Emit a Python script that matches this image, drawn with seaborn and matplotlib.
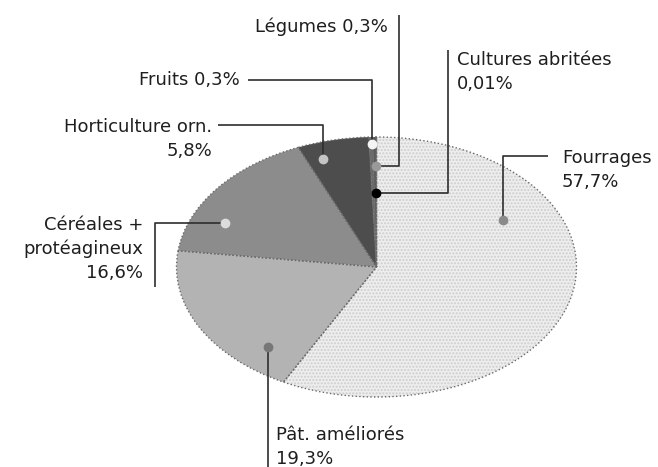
import numpy as np
import matplotlib
matplotlib.use("Agg")
import matplotlib.pyplot as plt
import seaborn as sns

# Surface shares (%) by land use
categories = ["Fourrages", "Pât. améliorés", "Céréales +\nprotéagineux",
              "Horticulture orn.", "Fruits", "Légumes", "Cultures abritées"]
shares = [57.7, 19.3, 16.6, 5.8, 0.3, 0.3, 0.01]
share_labels = ["57,7%", "19,3%", "16,6%", "5,8%", "0,3%", "0,3%", "0,01%"]

sns.set_theme(style="white")
plt.rcParams["font.family"] = ["DejaVu Sans"]

W, H = 658, 467
fig = plt.figure(figsize=(W / 100, H / 100), dpi=100)
ax = fig.add_axes([0, 0, 1, 1])

# pixel frame of the (elliptical) pie
CX, CY, RX, RY = 376.5, 267.0, 200.0, 130.0


def px(x, y):
    """pixel position -> data position of the pie axes"""
    return (x - CX) / RX, (CY - y) / RY


face = ["#eeeeee", "#b3b3b3", "#8c8c8c", "#4d4d4d", "#6a6a6a", "#5a5a5a", "#000000"]

# filled wedges; the large one gets a fine light stipple
wedges, _ = ax.pie(shares, startangle=90, counterclock=False, colors=face,
                   radius=1.0, wedgeprops=dict(edgecolor="none", linewidth=0))
wedges[0].set_hatch(".....")
wedges[0].set_edgecolor("#cdcdcd")
wedges[0].set_linewidth(0)

# dotted outlines on top
ax.pie(shares, startangle=90, counterclock=False, colors=["none"] * len(shares),
       radius=1.0, wedgeprops=dict(edgecolor="#6a6a6a", linewidth=1.0, linestyle=":",
                                   fill=False))

ax.set_aspect("auto")
x0, y1 = px(0, 0)
x1, y0 = px(W, H)
ax.set_xlim(x0, x1)
ax.set_ylim(y0, y1)
ax.axis("off")

# anchor inside each wedge: (fraction along the wedge clockwise, radius)
anchor_pos = [(0.29, 0.73), (0.20, 0.82), (0.28, 0.83), (0.24, 0.87),
              (0.70, 0.95), (0.98, 0.78), (0.5, 0.57)]
marker_col = ["#8a8a8a", "#777777", "#dcdcdc", "#c4c4c4", "#f4f4f4", "#9a9a9a", "#000000"]

# leader routing: first leg direction, end point (px); text position (px), alignment
leaders = [
    ("v", (548, 156), (562, 170), "left", "{0}\n{1}"),
    ("v", (268, 467), (276, 447), "left", "{0}\n{1}"),
    ("h", (155, 287), (143, 249), "right", "{0}\n{1}"),
    ("v", (218, 125), (212, 139), "right", "{0}\n{1}"),
    ("v", (248, 80), (240, 80), "right", "{0} {1}"),
    ("h", (399, 15), (388, 27), "right", "{0} {1}"),
    ("h", (448, 50), (457, 72), "left", "{0}\n{1}"),
]

for w, (f, r), mc, (leg, end, tpos, ha, fmt), name, lab in zip(
        wedges, anchor_pos, marker_col, leaders, categories, share_labels):
    ang = np.deg2rad(w.theta2 - f * (w.theta2 - w.theta1))
    ax_, ay_ = r * np.cos(ang), r * np.sin(ang)
    ex, ey = px(*end)
    if leg == "v":
        corner = (ax_, ey)
    else:
        corner = (ex, ay_)
    ax.plot([ax_, corner[0], ex], [ay_, corner[1], ey], color="#2e2e2e",
            lw=1.2, solid_capstyle="butt", zorder=3)
    ax.plot([ax_], [ay_], "o", ms=6, color=mc, mec=mc, zorder=4)
    tx, ty = px(*tpos)
    ax.text(tx, ty, fmt.format(name, lab), ha=ha, va="center", fontsize=13,
            color="#1e1e1e", linespacing=1.4, zorder=5)

fig.savefig("out.png", dpi=100)
